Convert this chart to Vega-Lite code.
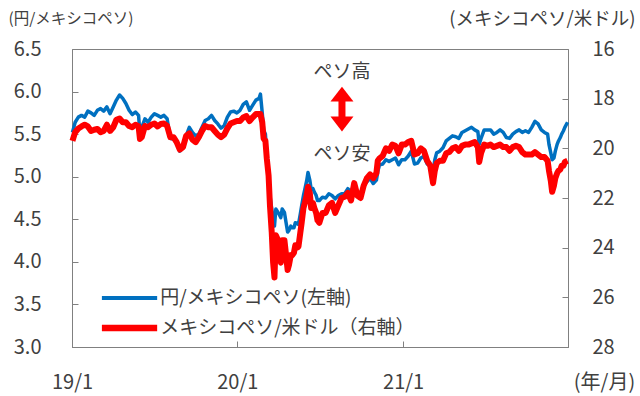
{
  "$schema": "https://vega.github.io/schema/vega-lite/v6.json",
  "width": 496,
  "height": 298,
  "autosize": "none",
  "padding": {"left": 72, "top": 49, "right": 72, "bottom": 49},
  "background": "white",
  "config": {
    "view": {"stroke": "#808080", "strokeWidth": 1},
    "font": "Noto Sans CJK JP",
    "axis": {
      "grid": false,
      "domainColor": "#808080",
      "tickColor": "#808080",
      "tickSize": -6,
      "labelColor": "#404040",
      "labelFontSize": 20,
      "labelFont": "Noto Sans CJK JP",
      "labelFlush": false,
      "titleFont": "Noto Sans CJK JP",
      "titleFontSize": 18,
      "titleFontWeight": "normal",
      "titleColor": "#404040"
    }
  },
  "datasets": {
    "fx": [
      {"d": "2019-01-02", "jpy": 5.52, "mxn": 19.70},
      {"d": "2019-01-08", "jpy": 5.64, "mxn": 19.35},
      {"d": "2019-01-15", "jpy": 5.70, "mxn": 19.20},
      {"d": "2019-01-22", "jpy": 5.72, "mxn": 19.12},
      {"d": "2019-01-29", "jpy": 5.70, "mxn": 19.05},
      {"d": "2019-02-05", "jpy": 5.77, "mxn": 19.12},
      {"d": "2019-02-12", "jpy": 5.75, "mxn": 19.30},
      {"d": "2019-02-19", "jpy": 5.72, "mxn": 19.25},
      {"d": "2019-02-26", "jpy": 5.78, "mxn": 19.22},
      {"d": "2019-03-05", "jpy": 5.80, "mxn": 19.35},
      {"d": "2019-03-12", "jpy": 5.77, "mxn": 19.30},
      {"d": "2019-03-19", "jpy": 5.82, "mxn": 19.05},
      {"d": "2019-03-26", "jpy": 5.74, "mxn": 19.30},
      {"d": "2019-04-02", "jpy": 5.82, "mxn": 19.15},
      {"d": "2019-04-09", "jpy": 5.90, "mxn": 18.85},
      {"d": "2019-04-16", "jpy": 5.96, "mxn": 18.80},
      {"d": "2019-04-23", "jpy": 5.92, "mxn": 18.95},
      {"d": "2019-04-30", "jpy": 5.86, "mxn": 18.95},
      {"d": "2019-05-07", "jpy": 5.78, "mxn": 19.10},
      {"d": "2019-05-14", "jpy": 5.73, "mxn": 19.15},
      {"d": "2019-05-21", "jpy": 5.76, "mxn": 19.05},
      {"d": "2019-05-28", "jpy": 5.72, "mxn": 19.12},
      {"d": "2019-05-31", "jpy": 5.50, "mxn": 19.62},
      {"d": "2019-06-04", "jpy": 5.58, "mxn": 19.55},
      {"d": "2019-06-11", "jpy": 5.68, "mxn": 19.10},
      {"d": "2019-06-18", "jpy": 5.64, "mxn": 19.15},
      {"d": "2019-06-25", "jpy": 5.70, "mxn": 19.05},
      {"d": "2019-07-02", "jpy": 5.74, "mxn": 19.00},
      {"d": "2019-07-09", "jpy": 5.72, "mxn": 19.12},
      {"d": "2019-07-16", "jpy": 5.70, "mxn": 19.02},
      {"d": "2019-07-23", "jpy": 5.72, "mxn": 19.00},
      {"d": "2019-07-30", "jpy": 5.68, "mxn": 19.10},
      {"d": "2019-08-06", "jpy": 5.45, "mxn": 19.55},
      {"d": "2019-08-13", "jpy": 5.44, "mxn": 19.55},
      {"d": "2019-08-20", "jpy": 5.42, "mxn": 19.75},
      {"d": "2019-08-27", "jpy": 5.30, "mxn": 20.05},
      {"d": "2019-09-03", "jpy": 5.34, "mxn": 19.95},
      {"d": "2019-09-10", "jpy": 5.48, "mxn": 19.50},
      {"d": "2019-09-17", "jpy": 5.58, "mxn": 19.40},
      {"d": "2019-09-24", "jpy": 5.52, "mxn": 19.65},
      {"d": "2019-10-01", "jpy": 5.48, "mxn": 19.75},
      {"d": "2019-10-08", "jpy": 5.50, "mxn": 19.55},
      {"d": "2019-10-15", "jpy": 5.58, "mxn": 19.30},
      {"d": "2019-10-22", "jpy": 5.66, "mxn": 19.10},
      {"d": "2019-10-29", "jpy": 5.68, "mxn": 19.15},
      {"d": "2019-11-05", "jpy": 5.72, "mxn": 19.15},
      {"d": "2019-11-12", "jpy": 5.66, "mxn": 19.30},
      {"d": "2019-11-19", "jpy": 5.62, "mxn": 19.45},
      {"d": "2019-11-26", "jpy": 5.57, "mxn": 19.55},
      {"d": "2019-12-03", "jpy": 5.60, "mxn": 19.45},
      {"d": "2019-12-10", "jpy": 5.70, "mxn": 19.20},
      {"d": "2019-12-17", "jpy": 5.76, "mxn": 19.00},
      {"d": "2019-12-24", "jpy": 5.77, "mxn": 18.95},
      {"d": "2019-12-31", "jpy": 5.75, "mxn": 18.90},
      {"d": "2020-01-07", "jpy": 5.78, "mxn": 18.90},
      {"d": "2020-01-14", "jpy": 5.85, "mxn": 18.76},
      {"d": "2020-01-21", "jpy": 5.88, "mxn": 18.70},
      {"d": "2020-01-28", "jpy": 5.78, "mxn": 18.90},
      {"d": "2020-02-04", "jpy": 5.84, "mxn": 18.75},
      {"d": "2020-02-11", "jpy": 5.90, "mxn": 18.62},
      {"d": "2020-02-18", "jpy": 5.92, "mxn": 18.62},
      {"d": "2020-02-21", "jpy": 5.97, "mxn": 18.62},
      {"d": "2020-02-25", "jpy": 5.75, "mxn": 18.95},
      {"d": "2020-02-28", "jpy": 5.55, "mxn": 19.60},
      {"d": "2020-03-03", "jpy": 5.50, "mxn": 19.70},
      {"d": "2020-03-06", "jpy": 5.25, "mxn": 20.40},
      {"d": "2020-03-10", "jpy": 5.00, "mxn": 21.10},
      {"d": "2020-03-13", "jpy": 4.78, "mxn": 22.30},
      {"d": "2020-03-17", "jpy": 4.62, "mxn": 23.40},
      {"d": "2020-03-20", "jpy": 4.50, "mxn": 24.60},
      {"d": "2020-03-23", "jpy": 4.42, "mxn": 25.20},
      {"d": "2020-03-26", "jpy": 4.62, "mxn": 23.50},
      {"d": "2020-03-31", "jpy": 4.58, "mxn": 23.70},
      {"d": "2020-04-03", "jpy": 4.55, "mxn": 24.40},
      {"d": "2020-04-06", "jpy": 4.52, "mxn": 24.60},
      {"d": "2020-04-09", "jpy": 4.62, "mxn": 23.70},
      {"d": "2020-04-14", "jpy": 4.58, "mxn": 23.70},
      {"d": "2020-04-17", "jpy": 4.48, "mxn": 24.20},
      {"d": "2020-04-21", "jpy": 4.35, "mxn": 24.90},
      {"d": "2020-04-24", "jpy": 4.37, "mxn": 24.70},
      {"d": "2020-04-28", "jpy": 4.42, "mxn": 24.30},
      {"d": "2020-05-01", "jpy": 4.40, "mxn": 24.30},
      {"d": "2020-05-05", "jpy": 4.40, "mxn": 24.20},
      {"d": "2020-05-08", "jpy": 4.46, "mxn": 23.90},
      {"d": "2020-05-12", "jpy": 4.45, "mxn": 24.00},
      {"d": "2020-05-15", "jpy": 4.44, "mxn": 23.95},
      {"d": "2020-05-19", "jpy": 4.56, "mxn": 23.40},
      {"d": "2020-05-22", "jpy": 4.66, "mxn": 23.00},
      {"d": "2020-05-26", "jpy": 4.78, "mxn": 22.40},
      {"d": "2020-05-29", "jpy": 4.85, "mxn": 22.20},
      {"d": "2020-06-02", "jpy": 4.95, "mxn": 21.90},
      {"d": "2020-06-05", "jpy": 5.05, "mxn": 21.55},
      {"d": "2020-06-09", "jpy": 4.96, "mxn": 21.80},
      {"d": "2020-06-12", "jpy": 4.85, "mxn": 22.40},
      {"d": "2020-06-16", "jpy": 4.86, "mxn": 22.20},
      {"d": "2020-06-19", "jpy": 4.82, "mxn": 22.40},
      {"d": "2020-06-23", "jpy": 4.78, "mxn": 22.60},
      {"d": "2020-06-26", "jpy": 4.72, "mxn": 22.90},
      {"d": "2020-06-30", "jpy": 4.72, "mxn": 23.00},
      {"d": "2020-07-07", "jpy": 4.76, "mxn": 22.60},
      {"d": "2020-07-14", "jpy": 4.75, "mxn": 22.60},
      {"d": "2020-07-21", "jpy": 4.80, "mxn": 22.30},
      {"d": "2020-07-28", "jpy": 4.78, "mxn": 22.20},
      {"d": "2020-08-04", "jpy": 4.74, "mxn": 22.60},
      {"d": "2020-08-11", "jpy": 4.78, "mxn": 22.30},
      {"d": "2020-08-18", "jpy": 4.80, "mxn": 22.00},
      {"d": "2020-08-25", "jpy": 4.80, "mxn": 21.95},
      {"d": "2020-09-01", "jpy": 4.86, "mxn": 21.80},
      {"d": "2020-09-08", "jpy": 4.82, "mxn": 22.10},
      {"d": "2020-09-15", "jpy": 4.92, "mxn": 21.40},
      {"d": "2020-09-22", "jpy": 4.78, "mxn": 21.90},
      {"d": "2020-09-29", "jpy": 4.80, "mxn": 22.00},
      {"d": "2020-10-06", "jpy": 4.90, "mxn": 21.50},
      {"d": "2020-10-13", "jpy": 4.94, "mxn": 21.20},
      {"d": "2020-10-20", "jpy": 4.98, "mxn": 21.05},
      {"d": "2020-10-27", "jpy": 4.92, "mxn": 21.20},
      {"d": "2020-11-03", "jpy": 4.96, "mxn": 21.00},
      {"d": "2020-11-06", "jpy": 5.06, "mxn": 20.50},
      {"d": "2020-11-10", "jpy": 5.14, "mxn": 20.40},
      {"d": "2020-11-17", "jpy": 5.15, "mxn": 20.30},
      {"d": "2020-11-24", "jpy": 5.20, "mxn": 20.00},
      {"d": "2020-12-01", "jpy": 5.18, "mxn": 20.10},
      {"d": "2020-12-08", "jpy": 5.20, "mxn": 19.85},
      {"d": "2020-12-15", "jpy": 5.22, "mxn": 19.90},
      {"d": "2020-12-22", "jpy": 5.14, "mxn": 20.20},
      {"d": "2020-12-29", "jpy": 5.20, "mxn": 19.85},
      {"d": "2021-01-05", "jpy": 5.20, "mxn": 19.85},
      {"d": "2021-01-12", "jpy": 5.24, "mxn": 19.75},
      {"d": "2021-01-19", "jpy": 5.30, "mxn": 19.70},
      {"d": "2021-01-26", "jpy": 5.15, "mxn": 20.25},
      {"d": "2021-02-02", "jpy": 5.16, "mxn": 20.20},
      {"d": "2021-02-09", "jpy": 5.22, "mxn": 20.00},
      {"d": "2021-02-16", "jpy": 5.24, "mxn": 20.10},
      {"d": "2021-02-23", "jpy": 5.15, "mxn": 20.50},
      {"d": "2021-03-02", "jpy": 5.12, "mxn": 20.70},
      {"d": "2021-03-08", "jpy": 5.06, "mxn": 21.40},
      {"d": "2021-03-12", "jpy": 5.20, "mxn": 20.90},
      {"d": "2021-03-16", "jpy": 5.28, "mxn": 20.60},
      {"d": "2021-03-23", "jpy": 5.30, "mxn": 20.50},
      {"d": "2021-03-30", "jpy": 5.34, "mxn": 20.50},
      {"d": "2021-04-06", "jpy": 5.42, "mxn": 20.20},
      {"d": "2021-04-13", "jpy": 5.45, "mxn": 20.15},
      {"d": "2021-04-20", "jpy": 5.48, "mxn": 20.00},
      {"d": "2021-04-27", "jpy": 5.47, "mxn": 19.95},
      {"d": "2021-05-04", "jpy": 5.45, "mxn": 20.10},
      {"d": "2021-05-11", "jpy": 5.52, "mxn": 19.90},
      {"d": "2021-05-18", "jpy": 5.54, "mxn": 19.85},
      {"d": "2021-05-25", "jpy": 5.56, "mxn": 19.85},
      {"d": "2021-06-01", "jpy": 5.58, "mxn": 19.80},
      {"d": "2021-06-08", "jpy": 5.55, "mxn": 19.75},
      {"d": "2021-06-15", "jpy": 5.53, "mxn": 19.95},
      {"d": "2021-06-18", "jpy": 5.38, "mxn": 20.55},
      {"d": "2021-06-22", "jpy": 5.45, "mxn": 20.20},
      {"d": "2021-06-29", "jpy": 5.55, "mxn": 19.85},
      {"d": "2021-07-06", "jpy": 5.55, "mxn": 19.90},
      {"d": "2021-07-13", "jpy": 5.55, "mxn": 19.85},
      {"d": "2021-07-20", "jpy": 5.50, "mxn": 19.95},
      {"d": "2021-07-27", "jpy": 5.52, "mxn": 19.90},
      {"d": "2021-08-03", "jpy": 5.55, "mxn": 19.85},
      {"d": "2021-08-10", "jpy": 5.52, "mxn": 19.95},
      {"d": "2021-08-17", "jpy": 5.46, "mxn": 19.95},
      {"d": "2021-08-24", "jpy": 5.45, "mxn": 20.10},
      {"d": "2021-08-31", "jpy": 5.50, "mxn": 19.95},
      {"d": "2021-09-07", "jpy": 5.53, "mxn": 19.90},
      {"d": "2021-09-14", "jpy": 5.55, "mxn": 19.95},
      {"d": "2021-09-21", "jpy": 5.52, "mxn": 20.15},
      {"d": "2021-09-28", "jpy": 5.54, "mxn": 20.25},
      {"d": "2021-10-05", "jpy": 5.52, "mxn": 20.25},
      {"d": "2021-10-12", "jpy": 5.58, "mxn": 20.25},
      {"d": "2021-10-19", "jpy": 5.65, "mxn": 20.15},
      {"d": "2021-10-26", "jpy": 5.62, "mxn": 20.25},
      {"d": "2021-11-02", "jpy": 5.55, "mxn": 20.35},
      {"d": "2021-11-09", "jpy": 5.52, "mxn": 20.35},
      {"d": "2021-11-16", "jpy": 5.50, "mxn": 20.50},
      {"d": "2021-11-19", "jpy": 5.38, "mxn": 20.90},
      {"d": "2021-11-23", "jpy": 5.28, "mxn": 21.30},
      {"d": "2021-11-26", "jpy": 5.20, "mxn": 21.75},
      {"d": "2021-11-30", "jpy": 5.22, "mxn": 21.50},
      {"d": "2021-12-03", "jpy": 5.30, "mxn": 21.20},
      {"d": "2021-12-07", "jpy": 5.38, "mxn": 21.00},
      {"d": "2021-12-10", "jpy": 5.42, "mxn": 20.90},
      {"d": "2021-12-14", "jpy": 5.46, "mxn": 20.85},
      {"d": "2021-12-17", "jpy": 5.50, "mxn": 20.70},
      {"d": "2021-12-21", "jpy": 5.54, "mxn": 20.70},
      {"d": "2021-12-24", "jpy": 5.58, "mxn": 20.55},
      {"d": "2021-12-30", "jpy": 5.64, "mxn": 20.50}
    ],
    "labels": [
      {"d": "2020-08-19", "v": 6.235, "t": "ペソ高"},
      {"d": "2020-08-19", "v": 5.27, "t": "ペソ安"}
    ],
    "arrow": [
      {"d": "2020-08-19", "a": 5.66, "b": 5.93, "top": 5.97, "bot": 5.62}
    ],
    "key": [
      {"d1": "2019-03-08", "d2": "2019-07-08", "v": 3.576, "t": "円/メキシコペソ(左軸)", "s": "jpy"},
      {"d1": "2019-03-08", "d2": "2019-07-08", "v": 3.224, "t": "メキシコペソ/米ドル（右軸）", "s": "mxn"}
    ]
  },
  "layer": [
    {
      "layer": [
        {
          "data": {"name": "fx"},
          "mark": {"type": "line", "strokeWidth": 3.5, "strokeJoin": "round", "color": "#0070C0"},
          "encoding": {
            "x": {
              "field": "d", "type": "temporal",
              "scale": {"type": "utc", "domain": [{"year": 2019, "month": 1, "date": 1, "utc": true}, {"year": 2021, "month": 12, "date": 31, "utc": true}]},
              "axis": {
                "values": [{"year": 2019, "month": 1, "date": 1, "utc": true}, {"year": 2020, "month": 1, "date": 1, "utc": true}, {"year": 2021, "month": 1, "date": 1, "utc": true}],
                "labelExpr": "utcFormat(datum.value, '%y/%-m')",
                "labelPadding": 41, "labelBaseline": "middle", "labelFlush": false,
                "title": "(年/月)", "titleFontSize": 20, "titleX": 532, "titleY": 35, "titleAlign": "center", "titleBaseline": "middle", "titleAngle": 0
              }
            },
            "y": {
              "field": "jpy", "type": "quantitative",
              "scale": {"domain": [3, 6.5], "zero": false, "nice": false},
              "axis": {
                "values": [3, 3.5, 4, 4.5, 5, 5.5, 6, 6.5], "format": ".1f", "labelPadding": 37,
                "title": "(円/メキシコペソ)", "titleFontSize": 15.5, "titleAngle": 0, "titleAlign": "left", "titleBaseline": "middle", "titleX": -64, "titleY": -31
              }
            }
          }
        },
        {
          "data": {"name": "labels"},
          "mark": {"type": "text", "fontSize": 19, "color": "#404040", "font": "Noto Sans CJK JP", "align": "center", "baseline": "middle"},
          "encoding": {
            "x": {"field": "d", "type": "temporal"},
            "y": {"field": "v", "type": "quantitative", "scale": {"domain": [3, 6.5], "zero": false, "nice": false}},
            "text": {"field": "t"}
          }
        },
        {
          "data": {"name": "arrow"},
          "mark": {"type": "rule", "strokeWidth": 7, "color": "#FF0000"},
          "encoding": {
            "x": {"field": "d", "type": "temporal"},
            "y": {"field": "a", "type": "quantitative", "scale": {"domain": [3, 6.5], "zero": false, "nice": false}},
            "y2": {"field": "b"}
          }
        },
        {
          "data": {"name": "arrow"},
          "mark": {"type": "point", "filled": true, "opacity": 1, "color": "#FF0000", "size": 529, "shape": "M0,-0.65L1,0.65L-1,0.65Z"},
          "encoding": {
            "x": {"field": "d", "type": "temporal"},
            "y": {"field": "top", "type": "quantitative", "scale": {"domain": [3, 6.5], "zero": false, "nice": false}}
          }
        },
        {
          "data": {"name": "arrow"},
          "mark": {"type": "point", "filled": true, "opacity": 1, "color": "#FF0000", "size": 529, "shape": "M0,0.65L1,-0.65L-1,-0.65Z"},
          "encoding": {
            "x": {"field": "d", "type": "temporal"},
            "y": {"field": "bot", "type": "quantitative", "scale": {"domain": [3, 6.5], "zero": false, "nice": false}}
          }
        },
        {
          "data": {"name": "key"},
          "transform": [{"filter": "datum.s === 'jpy'"}],
          "mark": {"type": "rule", "strokeWidth": 4, "color": "#0070C0"},
          "encoding": {
            "x": {"field": "d1", "type": "temporal"},
            "x2": {"field": "d2"},
            "y": {"field": "v", "type": "quantitative", "scale": {"domain": [3, 6.5], "zero": false, "nice": false}}
          }
        },
        {
          "data": {"name": "key"},
          "transform": [{"filter": "datum.s === 'mxn'"}],
          "mark": {"type": "rule", "strokeWidth": 6.5, "color": "#FF0000"},
          "encoding": {
            "x": {"field": "d1", "type": "temporal"},
            "x2": {"field": "d2"},
            "y": {"field": "v", "type": "quantitative", "scale": {"domain": [3, 6.5], "zero": false, "nice": false}}
          }
        },
        {
          "data": {"name": "key"},
          "mark": {"type": "text", "fontSize": 19, "color": "#404040", "font": "Noto Sans CJK JP", "align": "left", "baseline": "middle", "dx": 3},
          "encoding": {
            "x": {"field": "d2", "type": "temporal"},
            "y": {"field": "v", "type": "quantitative", "scale": {"domain": [3, 6.5], "zero": false, "nice": false}},
            "text": {"field": "t"}
          }
        }
      ]
    },
    {
      "data": {"name": "fx"},
      "mark": {"type": "line", "strokeWidth": 6, "strokeJoin": "round", "color": "#FF0000"},
      "encoding": {
        "x": {
          "field": "d", "type": "temporal",
          "scale": {"type": "utc", "domain": [{"year": 2019, "month": 1, "date": 1, "utc": true}, {"year": 2021, "month": 12, "date": 31, "utc": true}]},
          "axis": {
            "values": [{"year": 2019, "month": 1, "date": 1, "utc": true}, {"year": 2020, "month": 1, "date": 1, "utc": true}, {"year": 2021, "month": 1, "date": 1, "utc": true}],
            "labelExpr": "utcFormat(datum.value, '%y/%-m')",
            "labelPadding": 41, "labelBaseline": "middle", "labelFlush": false,
            "title": "(年/月)", "titleFontSize": 20, "titleX": 532, "titleY": 35, "titleAlign": "center", "titleBaseline": "middle", "titleAngle": 0
          }
        },
        "y": {
          "field": "mxn", "type": "quantitative",
          "scale": {"domain": [16, 28], "reverse": true, "zero": false, "nice": false},
          "axis": {
            "orient": "right", "values": [16, 18, 20, 22, 24, 26, 28], "labelPadding": 30,
            "title": "(メキシコペソ/米ドル)", "titleFontSize": 18.5, "titleAngle": 0, "titleAlign": "right", "titleBaseline": "middle", "titleX": 67, "titleY": -31
          }
        }
      }
    }
  ],
  "resolve": {"scale": {"y": "independent"}}
}
